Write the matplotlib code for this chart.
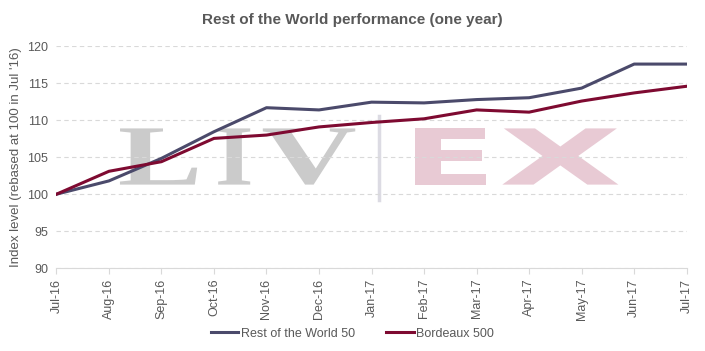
import numpy as np
import matplotlib.pyplot as plt
from matplotlib.textpath import TextPath
from matplotlib.font_manager import FontProperties
from matplotlib.patches import PathPatch
from matplotlib.transforms import Affine2D

plt.rcParams['font.family'] = ['Liberation Sans', 'DejaVu Sans']

months = ["Jul-16", "Aug-16", "Sep-16", "Oct-16", "Nov-16", "Dec-16", "Jan-17",
          "Feb-17", "Mar-17", "Apr-17", "May-17", "Jun-17", "Jul-17"]
row50 = [100.0, 101.8, 104.85, 108.45, 111.7, 111.4, 112.45, 112.35, 112.8, 113.05, 114.35, 117.6, 117.6]
bdx500 = [100.0, 103.1, 104.4, 107.55, 108.0, 109.1, 109.7, 110.2, 111.4, 111.1, 112.6, 113.7, 114.6]

grey = "#595959"


def draw_letter(ax, ch, x0, x1, family, color, y0=101.3, y1=108.9):
    """Stretch one glyph so it fills the box x0..x1, y0..y1 in data units"""
    fp = FontProperties(family=family, weight="bold")
    tp = TextPath((0, 0), ch, size=10, prop=fp)
    ext = tp.get_extents()
    tr = (Affine2D().translate(-ext.x0, -ext.y0)
          .scale((x1 - x0) / ext.width, (y1 - y0) / ext.height)
          .translate(x0, y0))
    ax.add_patch(PathPatch(tr.transform_path(tp), color=color, lw=0, zorder=0))


def main():
    fig = plt.figure(figsize=(7.05, 3.51), dpi=100)
    ax = fig.add_axes([0.080, 0.236, 0.894, 0.632])
    x = np.arange(len(months))

    # watermark
    for ch, a, b in [("L", 1.21, 2.68), ("I", 3.08, 3.69), ("V", 3.93, 5.69)]:
        draw_letter(ax, ch, a, b, "Liberation Serif", "#cbcbcb")
    ax.plot([6.14, 6.14], [99.2, 110.6], color="#dcdbe3", lw=2.5, zorder=0)
    for ch, a, b in [("E", 6.83, 8.18), ("X", 8.49, 10.70)]:
        draw_letter(ax, ch, a, b, "DejaVu Sans", "#e8cad4")

    ax.plot(x, row50, color="#4b4a6b", lw=2.2, label="Rest of the World 50", zorder=3)
    ax.plot(x, bdx500, color="#7e0a31", lw=2.2, label="Bordeaux 500", zorder=3)

    ax.set_xlim(0, len(months) - 1)
    ax.set_ylim(90, 120)
    ax.set_yticks(np.arange(90, 121, 5))
    ax.set_xticks(x)
    ax.set_xticklabels(months, rotation=90)
    ax.tick_params(axis="both", colors=grey, labelsize=9)
    ax.tick_params(axis="y", length=0, pad=6)
    ax.tick_params(axis="x", length=4, color="#d9d9d9")
    for lbl in ax.get_xticklabels() + ax.get_yticklabels():
        lbl.set_color(grey)
    ax.grid(axis="y", color="#d9d9d9", ls=(0, (4, 3)), lw=0.8)
    for s in ["top", "right", "left"]:
        ax.spines[s].set_visible(False)
    ax.spines["bottom"].set_color("#d9d9d9")
    ax.set_ylabel("Index level (rebased at 100 in Jul '16)", color=grey, fontsize=9.5)

    fig.suptitle("Rest of the World performance (one year)", x=0.5, y=0.962,
                 fontsize=11, weight="bold", color=grey)
    fig.legend(loc="lower center", bbox_to_anchor=(0.5, 0.0), ncol=2, frameon=False,
               fontsize=9, handlelength=2.2, handletextpad=0.2, columnspacing=2.5,
               labelcolor=grey)

    fig.savefig("out.png", dpi=100)


if __name__ == '__main__':
    main()
